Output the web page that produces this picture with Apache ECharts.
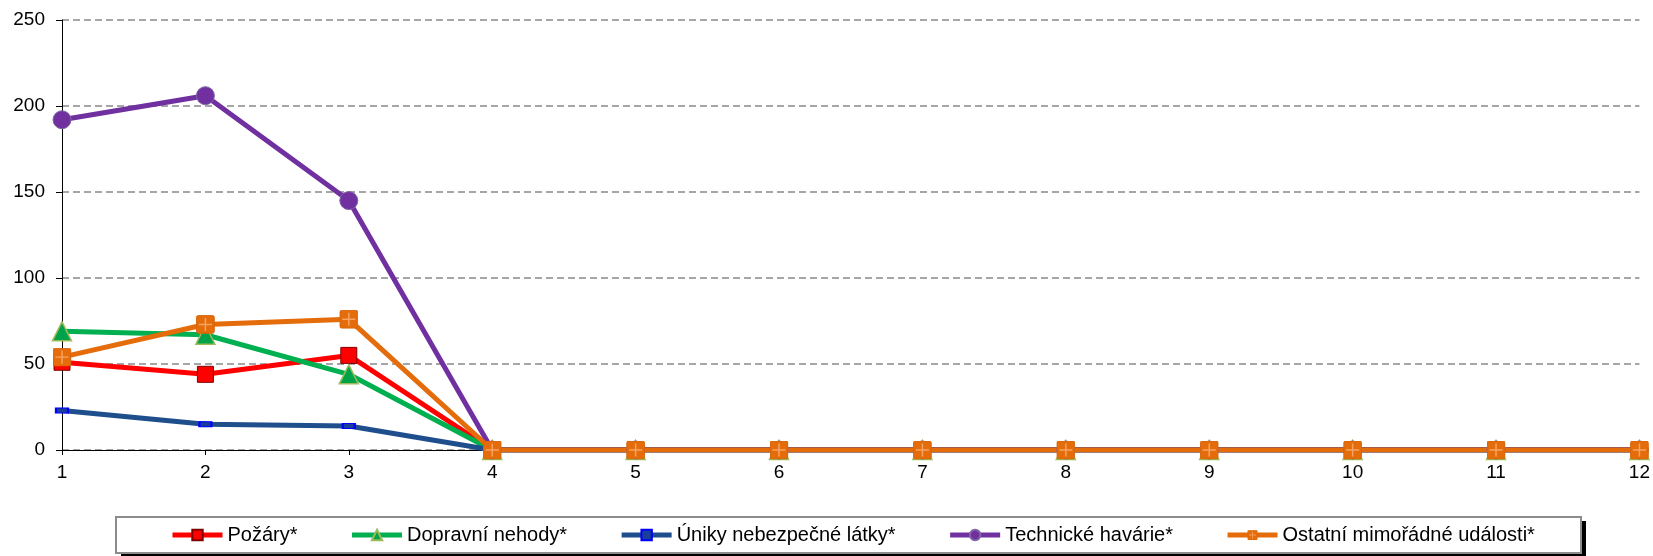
<!DOCTYPE html>
<html>
<head>
<meta charset="utf-8">
<script src="https://cdn.jsdelivr.net/npm/echarts@6/dist/echarts.min.js"></script>
<style>
html,body{margin:0;padding:0;background:#fff;}
#chart{width:1653px;height:556px;}
</style>
</head>
<body>
<div id="chart"></div>
<script>
const months = ['1','2','3','4','5','6','7','8','9','10','11','12'];
const yTicks = [0, 50, 100, 150, 200, 250];
const seriesNames = ['Požáry*', 'Dopravní nehody*', 'Úniky nebezpečné látky*', 'Technické havárie*', 'Ostatní mimořádné události*'];
const pozary = [51, 44, 55, 0, 0, 0, 0, 0, 0, 0, 0, 0];
const dopravniNehody = [69, 67, 44, 0, 0, 0, 0, 0, 0, 0, 0, 0];
const unikyLatky = [23, 15, 14, 0, 0, 0, 0, 0, 0, 0, 0, 0];
const technickeHavarie = [192, 206, 145, 0, 0, 0, 0, 0, 0, 0, 0, 0];
const ostatniUdalosti = [54, 73, 76, 0, 0, 0, 0, 0, 0, 0, 0, 0];

const FONT = '"Liberation Sans", Arial, sans-serif';
const plusSvg = "<svg xmlns='http://www.w3.org/2000/svg' width='32' height='32'>" +
  "<rect x='1' y='1' width='30' height='30' rx='3' fill='#E46C0A' stroke='#D8650A' stroke-width='1.5'/>" +
  "<path d='M16 5V27M5 16H27' stroke='#F7A463' stroke-width='2.5'/></svg>";
const plusSymbol = 'image://data:image/svg+xml;charset=utf-8,' + encodeURIComponent(plusSvg);

function mk(name, data, color, symbol, size, itemStyle) {
  return {
    name: name, type: 'line', data: data,
    symbol: symbol, symbolSize: size, showAllSymbol: true,
    lineStyle: {color: color, width: 5},
    itemStyle: itemStyle,
    color: color,
    animation: false
  };
}

const chart = echarts.init(document.getElementById('chart'));
chart.setOption({
  animation: false,
  textStyle: {fontFamily: FONT},
  grid: {left: 62, right: 10, top: 20, bottom: 106, containLabel: false},
  graphic: [
    {type: 'rect', z: 0, silent: true, shape: {x: 121, y: 521, width: 1465, height: 38}, style: {fill: '#000'}},
    {type: 'rect', z: 1, silent: true, shape: {x: 116, y: 517, width: 1465, height: 36}, style: {fill: '#fff', stroke: '#8C8C8C', lineWidth: 2}}
  ],
  xAxis: {
    type: 'category', data: months, boundaryGap: false,
    axisLine: {lineStyle: {color: '#000', width: 1}},
    axisTick: {show: true, alignWithLabel: true, length: 5, lineStyle: {color: '#000'}},
    axisLabel: {color: '#000', fontSize: 19, fontFamily: FONT, margin: 13, interval: 0},
    splitLine: {show: false}
  },
  yAxis: {
    type: 'value', min: yTicks[0], max: yTicks[yTicks.length - 1], interval: 50,
    axisLine: {show: true, lineStyle: {color: '#000', width: 1}},
    axisTick: {show: true, length: 6, lineStyle: {color: '#000'}},
    axisLabel: {color: '#000', fontSize: 19, fontFamily: FONT, margin: 17},
    splitLine: {show: true, lineStyle: {color: '#A6A6A6', width: 2, type: [7, 4]}}
  },
  legend: {
    left: 170, top: 525, z: 5,
    orient: 'horizontal',
    data: seriesNames,
    itemWidth: 50, itemHeight: 13, itemGap: 52,
    padding: 0,
    lineStyle: {width: 5},
    textStyle: {color: '#000', fontSize: 20, fontFamily: FONT}
  },
  series: [
    mk(seriesNames[0], pozary, '#FF0000', 'rect', 16, {color: '#FF0000', borderColor: '#7F0000', borderWidth: 1}),
    mk(seriesNames[1], dopravniNehody, '#00B050', 'triangle', 19, {color: '#00A24A', borderColor: '#9BBB59', borderWidth: 1.5}),
    mk(seriesNames[2], unikyLatky, '#1F4E8C', 'rect', [12, 5], {color: '#1A3F9A', borderColor: '#0000FF', borderWidth: 1.5}),
    mk(seriesNames[3], technickeHavarie, '#7030A0', 'circle', 18, {color: '#7030A0', borderColor: '#8064A2', borderWidth: 1}),
    mk(seriesNames[4], ostatniUdalosti, '#E46C0A', plusSymbol, 19, {color: '#E46C0A'})
  ]
});
</script>
</body>
</html>
